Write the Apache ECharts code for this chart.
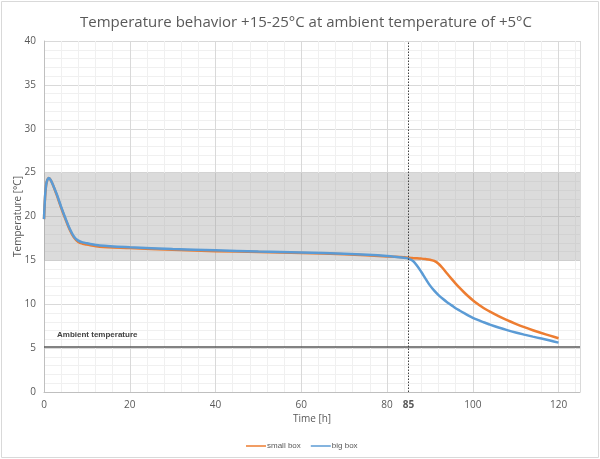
<!DOCTYPE html>
<html>
<head>
<meta charset="utf-8">
<script src="https://cdn.jsdelivr.net/npm/echarts@6/dist/echarts.min.js"></script>
<style>html,body{margin:0;padding:0;background:#fff}#c{width:600px;height:459px}</style>
</head>
<body>
<div id="c"></div>
<script>
var titleText = 'Temperature behavior +15-25°C at ambient temperature of +5°C';
var seriesNames = ['small box', 'big box'];
var times = [0,0.25,0.5,0.8,1.1,1.5,2,3,4,5,6,7,8,9,10,13,20,30,40,50,60,70,80,84,85,86,87,88,89,90,91,92,93,94,95,96,97,98,99,100,101,102,103,104,106,108,110,112,114,116,118,120];
var bigBox = [19.7,22.3,23.6,24.2,24.4,24.2,23.7,22.5,21.1,19.8,18.6,17.7,17.25,17.05,16.95,16.7,16.5,16.3,16.15,16.0,15.9,15.75,15.5,15.3,15.2,14.95,14.4,13.68,12.9,12.15,11.55,11.05,10.62,10.24,9.9,9.55,9.26,8.98,8.71,8.46,8.25,8.04,7.86,7.68,7.35,7.05,6.78,6.54,6.31,6.09,5.86,5.63];
var smallBox = [19.7,22.2,23.6,24.2,24.4,24.2,23.7,22.4,21.0,19.7,18.5,17.6,17.1,16.9,16.8,16.55,16.4,16.2,16.05,15.95,15.85,15.7,15.45,15.35,15.3,15.27,15.24,15.2,15.15,15.08,14.93,14.62,14.1,13.5,12.92,12.36,11.83,11.34,10.88,10.46,10.08,9.74,9.43,9.15,8.64,8.18,7.77,7.39,7.04,6.72,6.42,6.12];
var xTickLabels = [0,20,40,60,80,85,100,120];
var bandRange = [15, 25];
var ambientTemp = 5.1;
var ambientLabel = 'Ambient temperature';
var markTime = 85;

function pairs(xs, ys){ return xs.map(function(x,i){ return [x, ys[i]]; }); }

var chart = echarts.init(document.getElementById('c'));
var txt = '#595959';
var small = "'Liberation Sans', Arial, sans-serif";
chart.setOption({
  animation: false,
  textStyle: { fontFamily: 'Open Sans' },
  title: { text: titleText, left: 75, top: 10,
    textStyle: { fontSize: 15, fontWeight: 'normal', color: txt, fontFamily: 'Open Sans' } },
  legend: { top: 437, left: 241, itemWidth: 20, itemHeight: 1.5, icon: 'rect', itemGap: 10,
    textStyle: { fontSize: 8, color: txt, fontFamily: small, padding: [0, 0, 0, -4] },
    data: seriesNames },
  grid: { left: 44, right: 20, top: 41, bottom: 67, outerBoundsMode: 'none', containLabel: false },
  graphic: [{ type: 'rect', shape: { x: 1.5, y: 1.5, width: 597, height: 456 },
    style: { fill: 'none', stroke: '#d9d9d9', lineWidth: 1 }, silent: true }],
  xAxis: {
    type: 'value', min: 0, max: 125, interval: 20,
    name: 'Time [h]', nameLocation: 'middle', nameGap: 22, nameMoveOverlap: false,
    nameTextStyle: { fontSize: 10, color: txt },
    axisLine: { show: true, lineStyle: { color: '#bfbfbf' } },
    axisTick: { show: false },
    axisLabel: { fontSize: 10, color: txt, margin: 8,
      customValues: xTickLabels,
      formatter: function(v){ return v === markTime ? '{b|' + v + '}' : String(v); },
      rich: { b: { fontWeight: 'bold', fontSize: 10, color: txt } } },
    splitLine: { show: true, lineStyle: { color: '#d9d9d9' } },
    minorTick: { show: false, splitNumber: 5 },
    minorSplitLine: { show: true, lineStyle: { color: '#f0f0f0' } }
  },
  yAxis: {
    type: 'value', min: 0, max: 40, interval: 5,
    name: 'Temperature [°C]', nameLocation: 'middle', nameGap: 21, nameMoveOverlap: false,
    nameTextStyle: { fontSize: 10, color: txt },
    axisLine: { show: true, lineStyle: { color: '#bfbfbf' } },
    axisTick: { show: false },
    axisLabel: { fontSize: 10, color: txt, margin: 8 },
    splitLine: { show: true, lineStyle: { color: '#d9d9d9' } },
    minorTick: { show: false, splitNumber: 5 },
    minorSplitLine: { show: true, lineStyle: { color: '#f0f0f0' } }
  },
  series: [
    { name: seriesNames[0], type: 'line', data: pairs(times, smallBox), showSymbol: false,
      smooth: 0.3, color: '#ED7D31', lineStyle: { width: 2.5, color: '#ED7D31' }, z: 3,
      markArea: { silent: true, itemStyle: { color: 'rgba(160,160,160,0.38)' },
        data: [[{ yAxis: bandRange[0] }, { yAxis: bandRange[1] }]] },
      markLine: { silent: true, symbol: 'none', animation: false,
        data: [
          { yAxis: ambientTemp, lineStyle: { color: '#595959', width: 1.5, type: 'solid' },
            label: { show: true, position: 'insideStartTop', formatter: ambientLabel, fontSize: 8, fontWeight: 'bold', fontFamily: small, color: '#404040', distance: [13, 8] } },
          { xAxis: markTime, lineStyle: { color: '#404040', width: 1, type: [1.5, 1.5] }, label: { show: false } }
        ] } },
    { name: seriesNames[1], type: 'line', data: pairs(times, bigBox), showSymbol: false,
      smooth: 0.3, color: '#5B9BD5', lineStyle: { width: 2.5, color: '#5B9BD5' }, z: 4 }
  ]
});
</script>
</body>
</html>
